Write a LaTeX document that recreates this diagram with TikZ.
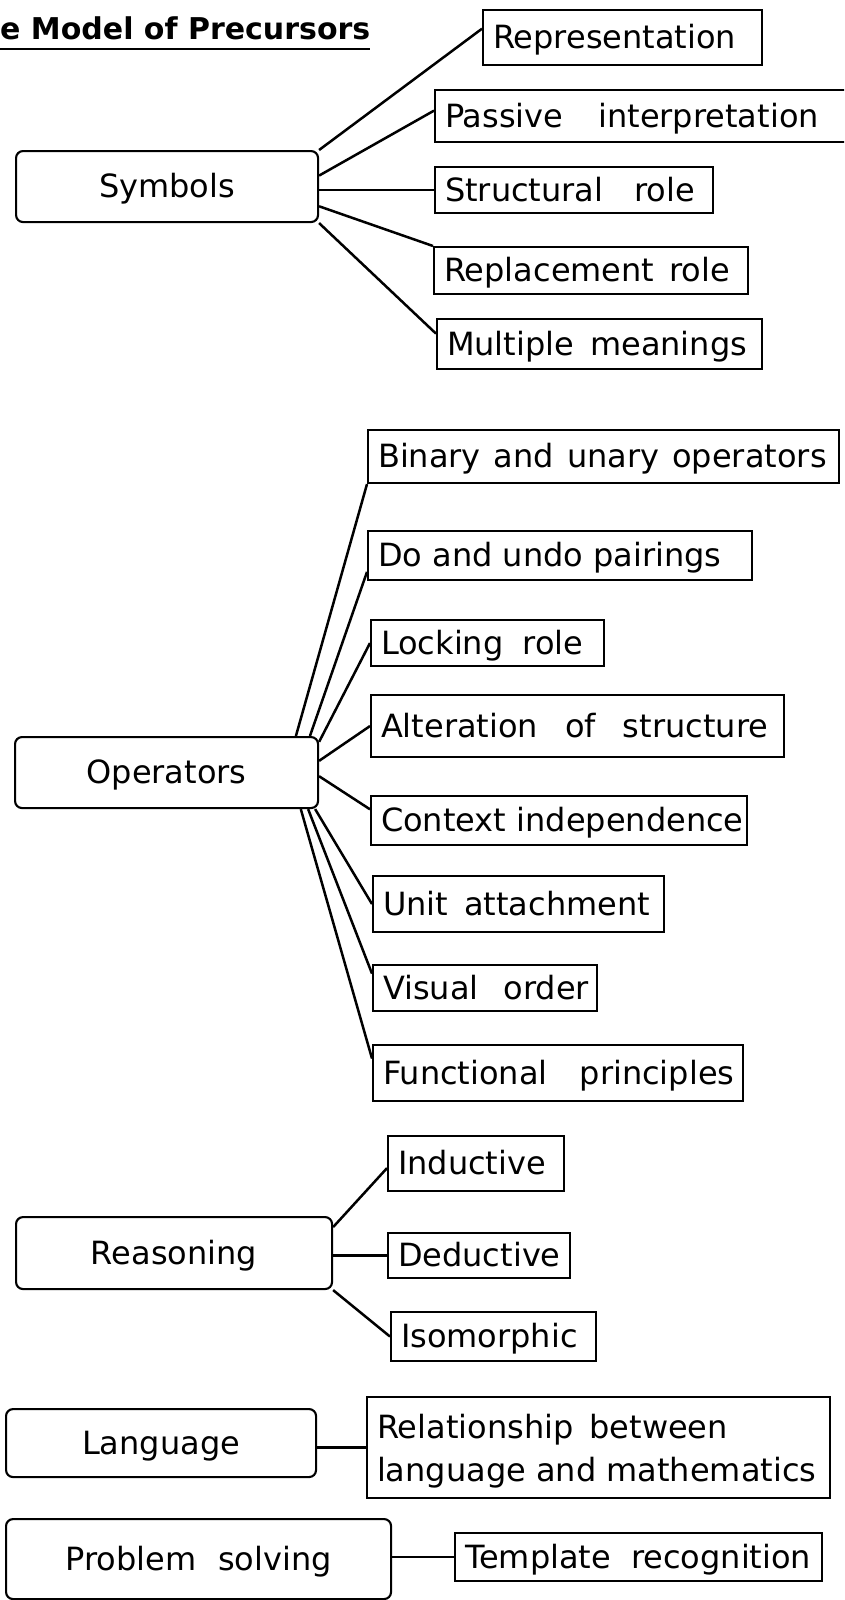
\documentclass[tikz,border=0pt]{standalone}
\usepackage{fontspec}
\setmainfont{DejaVu Sans}
\newfontfamily\titlefont{DejaVu Sans}
\usetikzlibrary{calc}

% fixed-width, left-aligned label body
\newcommand\fixw[2]{\makebox[#1pt][l]{#2}}

\tikzset{
  box/.style={draw, line width=2.1pt, inner sep=0pt, anchor=north west,
    font=\fontsize{32}{43}\selectfont, text height=27pt, text depth=5pt},
  parent/.style={box, rounded corners=7pt, align=center},
  leaf/.style={box, inner xsep=10pt},
  link/.style={line width=2.5pt},
  ws/.style={execute at begin node={\spaceskip=#1pt\relax}},
}

\begin{document}
\begin{tikzpicture}[x=1pt, y=-1pt]
\useasboundingbox (0,0) rectangle (844,1600);
\fill[white] (0,0) rectangle (844,1600);
\clip (0,0) rectangle (844,1600);

% title
\node[anchor=base west, inner sep=0pt, font=\titlefont\bfseries\fontsize{30}{36}\selectfont] (title) at (0,40) {e Model of Precursors};
\draw[line width=2.4pt] ([yshift=-9pt]title.base west) -- ([yshift=-9pt]title.base east);

% Symbols
\node[parent, minimum width=302pt, minimum height=71pt] (sym) at (15,150) {Symbols};
\node[leaf, minimum height=55pt] (rep) at (482,9) {\fixw{259}{Representation}};
\node[leaf, ws=35, minimum height=52pt] (pas) at (434,89) {\fixw{416}{Passive interpretation}};
\node[leaf, ws=31, minimum height=46pt] (str) at (434,166) {\fixw{258}{Structural role}};
\node[leaf, ws=15, minimum height=47pt] (repl) at (433,246) {\fixw{294}{Replacement role}};
\node[leaf, ws=16, minimum height=50pt] (mul) at (436,318) {\fixw{305}{Multiple meanings}};

\draw[link] (sym.north east) -- ($(rep.north west)!0.345!(rep.south west)$);
\draw[link] ($(sym.north east)!0.35!(sym.south east)$) -- ($(pas.north west)!0.4!(pas.south west)$);
\draw[link] (str.west -| sym.east) -- (str.west);
\draw[link] ($(sym.north east)!0.77!(sym.south east)$) -- (repl.north west);
\draw[link] (sym.south east) -- ($(mul.north west)!0.3!(mul.south west)$);

% Operators
\node[parent, minimum width=303pt, minimum height=71pt] (op) at (14,736) {Operators};
\node[leaf, ws=13, minimum height=53pt] (bin) at (367,429) {\fixw{451}{Binary and unary operators}};
\node[leaf, minimum height=49pt] (do) at (367,530) {\fixw{364}{Do and undo pairings}};
\node[leaf, ws=19, minimum height=46pt] (lock) at (370,619) {\fixw{213}{Locking role}};
\node[leaf, ws=27, minimum height=62pt] (alt) at (370,694) {\fixw{393}{Alteration of structure}};
\node[leaf, minimum height=49pt] (ctx) at (370,795) {\fixw{356}{Context independence}};
\node[leaf, ws=16, minimum height=56pt] (unit) at (372,875) {\fixw{271}{Unit attachment}};
\node[leaf, ws=25, minimum height=46pt] (vis) at (372,964) {\fixw{204}{Visual order}};
\node[leaf, ws=32, minimum height=56pt] (fun) at (372,1044) {\fixw{350}{Functional principles}};

\draw[link] ($(op.north west)!0.924!(op.north east)$) -- (bin.south west);
\draw[link] ($(op.north west)!0.97!(op.north east)$) -- ($(do.north west)!0.82!(do.south west)$);
\draw[link] ($(op.north east)!0.08!(op.south east)$) -- (lock.west);
\draw[link] ($(op.north east)!0.34!(op.south east)$) -- (alt.west);
\draw[link] ($(op.north east)!0.55!(op.south east)$) -- ($(ctx.north west)!0.28!(ctx.south west)$);
\draw[link] ($(op.south west)!0.987!(op.south east)$) -- (unit.west);
\draw[link] ($(op.south west)!0.964!(op.south east)$) -- ($(vis.north west)!0.2!(vis.south west)$);
\draw[link] ($(op.south west)!0.94!(op.south east)$) -- ($(fun.north west)!0.25!(fun.south west)$);

% Reasoning
\node[parent, minimum width=316pt, minimum height=72pt] (reas) at (15,1216) {Reasoning};
\node[leaf, minimum height=55pt] (ind) at (387,1135) {\fixw{156}{Inductive}};
\node[leaf, minimum height=45pt] (ded) at (387,1232) {\fixw{162}{Deductive}};
\node[leaf, minimum height=49pt] (iso) at (390,1311) {\fixw{185}{Isomorphic}};

\draw[link] ($(reas.north east)!0.15!(reas.south east)$) -- ($(ind.north west)!0.58!(ind.south west)$);
\draw[link] (ded.west -| reas.east) -- (ded.west);
\draw[link] (reas.south east) -- (iso.west);

% Language
\node[parent, minimum width=310pt, minimum height=68pt] (lang) at (5,1408) {Language};
\node[leaf, text width=443pt, align=left, minimum height=101pt, text height=28pt, text depth=46.5pt] (rel) at (366,1396)
  {\spaceskip=16pt\relax Relationship between\\\spaceskip=0pt\relax language and mathematics};
\draw[link] (rel.west -| lang.east) -- (rel.west);

% Problem solving
\node[parent, ws=22, minimum width=385pt, minimum height=80pt] (ps) at (5,1518) {Problem solving};
\node[leaf, ws=20, minimum height=48pt] (tmpl) at (454,1532) {\fixw{347}{Template recognition}};
\draw[link] (tmpl.west -| ps.east) -- (tmpl.west);
\end{tikzpicture}
\end{document}
